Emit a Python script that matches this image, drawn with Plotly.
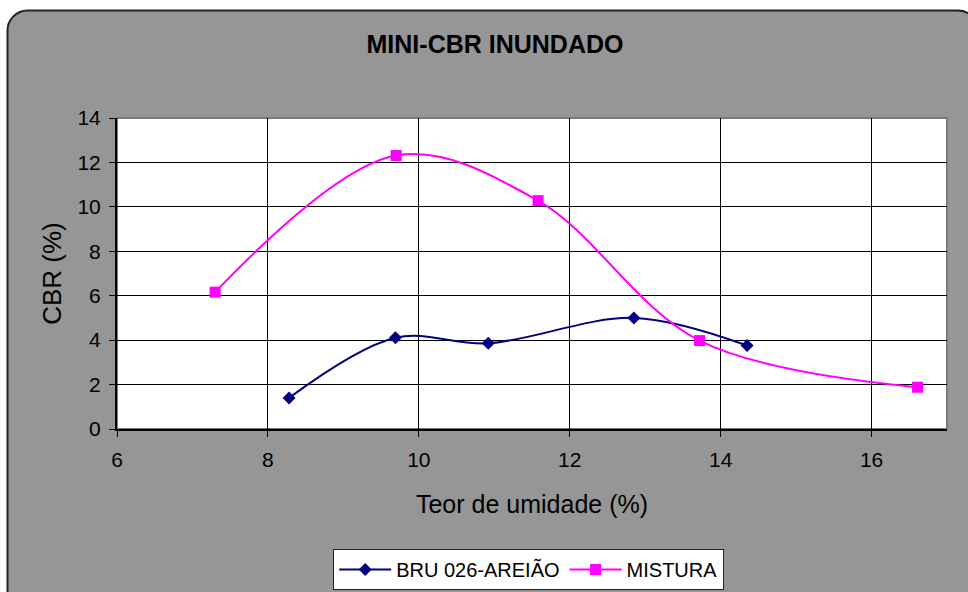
import plotly.graph_objects as go

# ---- data ----
bru_x = [8.28, 9.69, 10.92, 12.85, 14.35]
bru_y = [1.40, 4.11, 3.86, 5.00, 3.76]
mis_x = [7.30, 9.70, 11.58, 13.72, 16.61]
mis_y = [6.16, 12.31, 10.28, 3.98, 1.88]
series_names = ["BRU 026-AREIÃO", "MISTURA"]
x_ticks = [6, 8, 10, 12, 14, 16]
y_ticks = [0, 2, 4, 6, 8, 10, 12, 14]

W, H = 968, 592
L, R, T, B = 117, 947, 118, 429  # plot area pixels

def px(x):
    return (x - L) / (R - L)

def py(y):
    return (B - y) / (B - T)

FONT = "Liberation Sans, Arial, sans-serif"

fig = go.Figure()
fig.add_trace(go.Scatter(
    x=bru_x, y=bru_y, name=series_names[0], mode="lines+markers",
    line=dict(color="#000080", width=2, shape="spline", smoothing=1),
    marker=dict(symbol="diamond", size=10, color="#000080"),
))
fig.add_trace(go.Scatter(
    x=mis_x, y=mis_y, name=series_names[1], mode="lines+markers",
    line=dict(color="#FF00FF", width=2, shape="spline", smoothing=1),
    marker=dict(symbol="square", size=11, color="#FF00FF"),
))

# rounded chart-area background
x0, y0, x1, y1, r = 7.5, 10.5, 978, 620, 20
k = 0.55 * r
path = (
    f"M {px(x0)},{py(y0 + r)} "
    f"C {px(x0)},{py(y0 + r - k)} {px(x0 + r - k)},{py(y0)} {px(x0 + r)},{py(y0)} "
    f"L {px(x1 - r)},{py(y0)} "
    f"C {px(x1 - r + k)},{py(y0)} {px(x1)},{py(y0 + r - k)} {px(x1)},{py(y0 + r)} "
    f"L {px(x1)},{py(y1)} L {px(x0)},{py(y1)} Z"
)
shapes = [
    dict(type="path", path=path, xref="paper", yref="paper", layer="below",
         fillcolor="#969696", line=dict(color="#222222", width=2)),
    dict(type="rect", xref="paper", yref="paper", x0=0, y0=0, x1=1, y1=1,
         layer="below", fillcolor="white", line=dict(color="#7a7a7a", width=2)),
]

fig.update_layout(
    width=W, height=H,
    margin=dict(l=L, r=W - R, t=T, b=H - B, autoexpand=False),
    paper_bgcolor="white",
    plot_bgcolor="rgba(0,0,0,0)",
    font=dict(family=FONT, color="black", size=20),
    shapes=shapes,
    title=dict(text="<b>MINI-CBR INUNDADO</b>", x=495 / W, xanchor="center",
               y=1 - 44 / H, yanchor="middle",
               font=dict(family=FONT, size=25, color="black")),
    xaxis=dict(range=[6, 17], tickvals=x_ticks, ticks="outside", ticklen=6,
               tickcolor="black", showline=True, linecolor="black", linewidth=2,
               showgrid=True, gridcolor="black", gridwidth=1, zeroline=False,
               ticklabelstandoff=5, automargin=False,
               title=dict(text="Teor de umidade (%)", font=dict(size=25), standoff=25),
               tickfont=dict(size=21)),
    yaxis=dict(range=[0, 14], tickvals=y_ticks, ticks="outside", ticklen=6,
               tickcolor="black", showline=True, linecolor="black", linewidth=2,
               showgrid=True, gridcolor="black", gridwidth=1, zeroline=False,
               ticklabelstandoff=4, automargin=False,
               title=dict(text="CBR (%)", font=dict(size=26), standoff=8),
               tickfont=dict(size=21)),
    legend=dict(orientation="h", x=0.496, xanchor="center", y=py(549), yanchor="top",
                bgcolor="white", bordercolor="#222222", borderwidth=1,
                font=dict(size=20), itemwidth=52, tracegroupgap=0),
    showlegend=True,
)

fig.write_html("out.html", config={"displayModeBar": False},
               post_script="document.body.style.margin='0';")
